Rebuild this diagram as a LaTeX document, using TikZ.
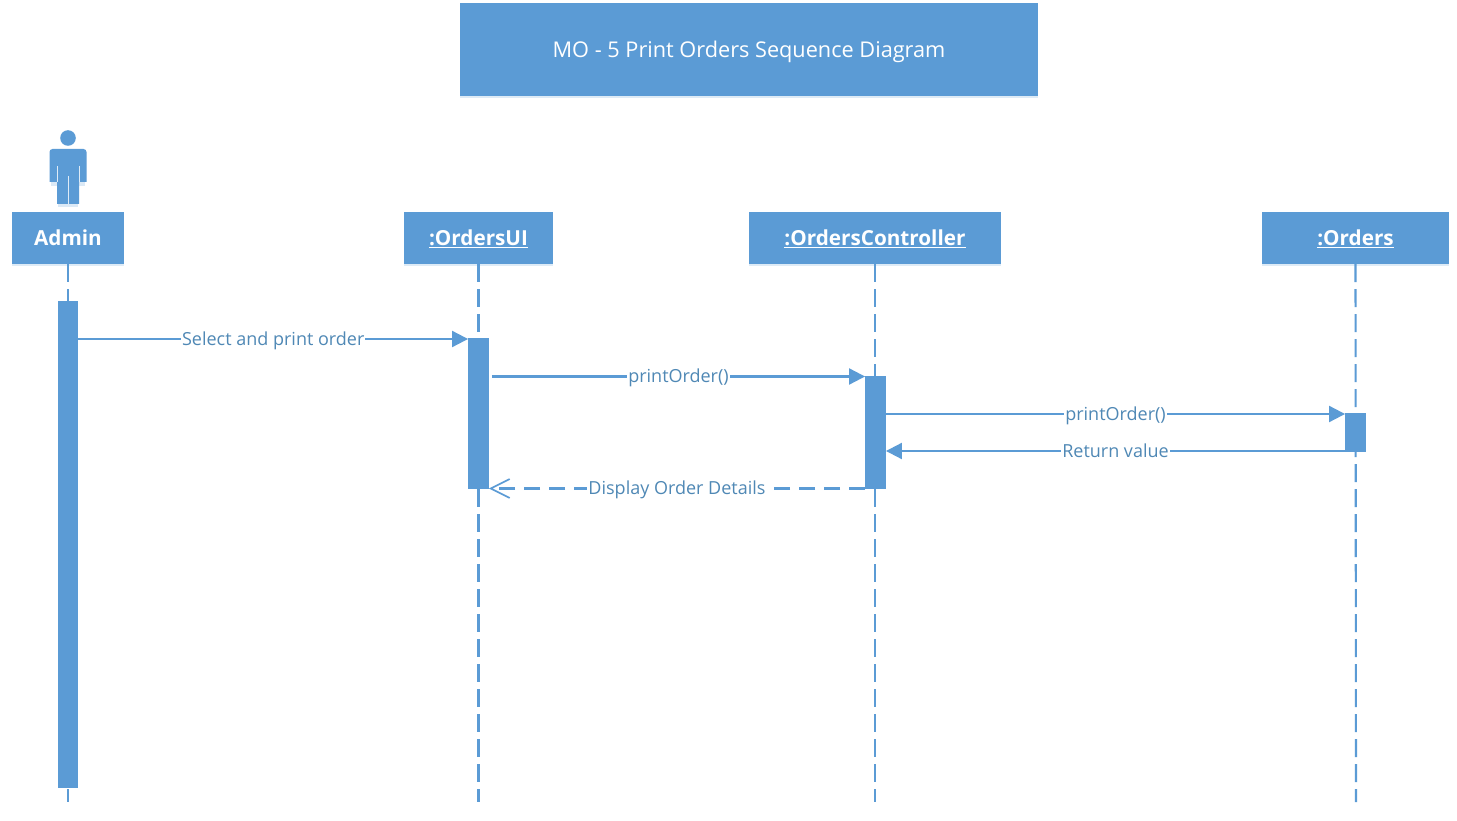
\documentclass[tikz,border=0pt]{standalone}
\usepackage{fontspec}
\setmainfont{Open Sans}
\usetikzlibrary{arrows.meta,positioning,shadows}
\definecolor{msblue}{HTML}{5B9BD5}
\definecolor{lbl}{HTML}{4F88B5}
\tikzset{
  x=1pt,y=-1pt,
  head/.style={fill=msblue,draw=none,text=white,font=\fontsize{20.7}{24}\selectfont\bfseries,inner sep=0pt,
     drop shadow={shadow xshift=0pt,shadow yshift=-2pt,fill=msblue,opacity=.2}},
  bar/.style={fill=msblue,draw=none,inner sep=0pt,minimum width=20.5pt},
  life/.style={draw=msblue,line width=2.1pt,dash pattern=on 18pt off 7pt},
  msg/.style={draw=msblue,line width=2.1pt,-{Triangle[length=16pt,width=16pt,fill=msblue]}},
  ret/.style={draw=msblue,line width=2.1pt,dash pattern=on 16pt off 9pt,-{Straight Barb[length=19pt,width=19pt,line width=1.6pt,sep=0pt]}},
  lab/.style={fill=white,text=lbl,font=\fontsize{18}{20}\selectfont,inner xsep=1pt,inner ysep=0pt,text height=12.5pt,text depth=0pt},
  htext/.style={text height=16pt,text depth=0pt}
}
\begin{document}
\begin{tikzpicture}
\useasboundingbox (0,0) rectangle (1457,821);
\fill[white] (0,0) rectangle (1457,821);
% title
\node[head,font=\fontsize{21.7}{24}\selectfont,minimum width=578pt,minimum height=93pt,text height=16pt,text depth=0pt] (title) at (749,49.5) {MO - 5 Print Orders Sequence Diagram};
% lifeline ends
\coordinate (adminEnd) at (68,802);
\coordinate (uiEnd) at (478.5,802);
\coordinate (ctrlEnd) at (875,802);
\coordinate (ordEnd) at (1356,802);
% headers
\node[head,htext,minimum width=112pt,minimum height=52pt] (admin) at (68,238) {Admin};
\node[head,htext,minimum width=149pt,minimum height=52pt] (ui) at (478.5,238) {\underline{:OrdersUI}};
\node[head,htext,minimum width=252pt,minimum height=52pt] (ctrl) at (875,238) {\underline{:OrdersController}};
\node[head,htext,minimum width=187pt,minimum height=52pt] (ord) at (1355.5,238) {\underline{:Orders}};
% lifelines
\draw[life] (admin.south) -- (adminEnd);
\draw[life] (ui.south) -- (uiEnd);
\draw[life] (ctrl.south) -- (ctrlEnd);
\draw[life] (ord.south) -- (ordEnd);
% actor
\fill[msblue!22] (51,182) rectangle (85,186);
\fill[msblue!22] (58,204) rectangle (78,207);
\fill[msblue] (68,138) circle (7.8);
\fill[msblue] (49.5,182) -- (49.5,152) arc[start angle=180,end angle=270,radius=3] -- (83.5,149) arc[start angle=270,end angle=360,radius=3] -- (86.5,182) -- (79,182) -- (79,204) -- (57,204) -- (57,182) -- cycle;
\draw[white!80!msblue,line width=.5pt] (57,166) -- (57,182) (68,176) -- (68,204) (79,166) -- (79,182);
% activation bars
\node[bar,minimum height=487pt] (aAdmin) at (68,544.5) {};
\node[bar,minimum height=151pt] (aUi) at (478.5,413.5) {};
\node[bar,minimum height=113pt] (aCtrl) at (875.5,432.5) {};
\node[bar,minimum height=39pt] (aOrd) at (1355.5,432.5) {};
% messages
\draw[msg] (aAdmin.east |- 0,339) -- node[lab]{Select and print order} (aUi.west |- 0,339);
\draw[msg] ([xshift=3pt]aUi.east |- 0,376.5) -- node[lab]{printOrder()} (aCtrl.west |- 0,376.5);
\draw[msg] (aCtrl.east |- 0,414) -- node[lab]{printOrder()} (aOrd.west |- 0,414);
\draw[msg] (aOrd.west |- 0,451) -- node[lab]{Return value} (aCtrl.east |- 0,451);
\draw[ret] (aCtrl.west |- 0,488.5) -- node[lab]{Display Order Details} (aUi.east |- 0,488.5);
\end{tikzpicture}
\end{document}
